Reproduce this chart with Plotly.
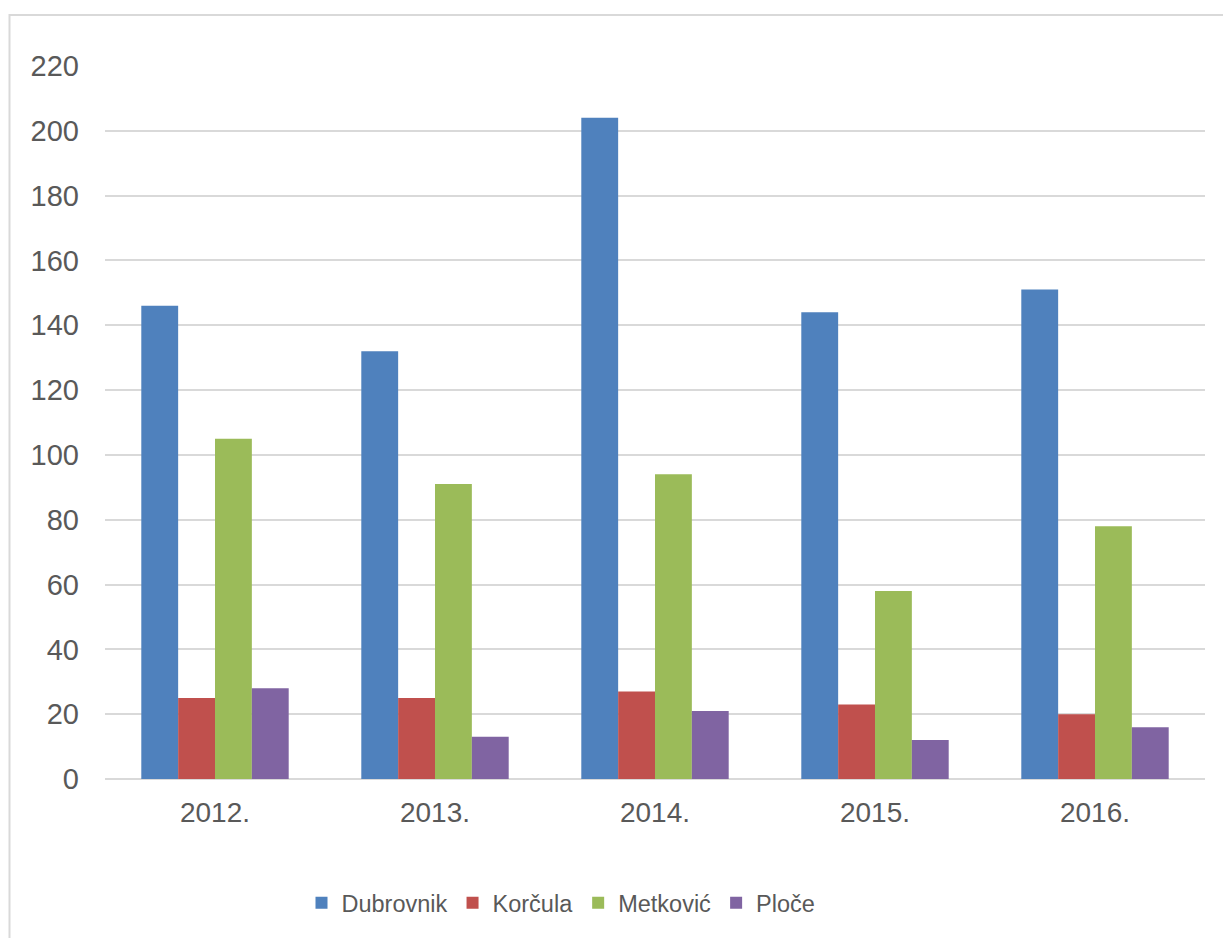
import plotly.graph_objects as go

years = ["2012.", "2013.", "2014.", "2015.", "2016."]
dubrovnik = [146, 132, 204, 144, 151]
korcula = [25, 25, 27, 23, 20]
metkovic = [105, 91, 94, 58, 78]
ploce = [28, 13, 21, 12, 16]

series = [
    ("Dubrovnik", dubrovnik, "#4F81BD"),
    ("Korčula", korcula, "#C0504D"),
    ("Metković", metkovic, "#9BBB59"),
    ("Ploče", ploce, "#8064A2"),
]

fig = go.Figure()
for name, vals, col in series:
    fig.add_trace(go.Bar(x=years, y=vals, name=name, marker=dict(color=col, line=dict(width=0))))

# page body has an 8px offset
OFF = 8
W, H = 1231 - OFF, 938 - OFF
L, R, T, B = 105 - OFF, 26, 66 - OFF, 159
pw, ph = W - L - R, H - T - B

def px_x(x):
    return (x - OFF - L) / pw

def px_y(y):
    return (H - B - (y - OFF)) / ph

fig.update_layout(
    width=W, height=H,
    margin=dict(l=L, r=R, t=T, b=B, pad=0),
    paper_bgcolor="white", plot_bgcolor="white",
    barmode="group", bargap=0.33, bargroupgap=0,
    font=dict(family="Liberation Sans, Arial, sans-serif", color="#595959"),
    showlegend=True,
    legend=dict(
        orientation="h", x=px_x(561), xanchor="center",
        y=px_y(903), yanchor="middle",
        font=dict(size=23.5, color="#595959"),
        itemwidth=30, tracegroupgap=0,
    ),
    xaxis=dict(
        showgrid=False, showline=False, ticks="",
        tickfont=dict(size=28, color="#595959"),
        ticklabelstandoff=14,
    ),
    yaxis=dict(
        range=[0, 220], dtick=20, tick0=0,
        showgrid=True, gridcolor="#D9D9D9", gridwidth=2,
        zeroline=True, zerolinecolor="#D9D9D9", zerolinewidth=2,
        showline=False, ticks="",
        tickfont=dict(size=29, color="#595959"),
        ticklabelstandoff=25,
    ),
    shapes=[dict(
        type="rect", xref="paper", yref="paper",
        x0=px_x(9.5), x1=1.2, y0=-0.4, y1=px_y(15),
        line=dict(color="#D9D9D9", width=2), fillcolor="rgba(0,0,0,0)", layer="below",
    )],
)

fig.write_html("out.html")
